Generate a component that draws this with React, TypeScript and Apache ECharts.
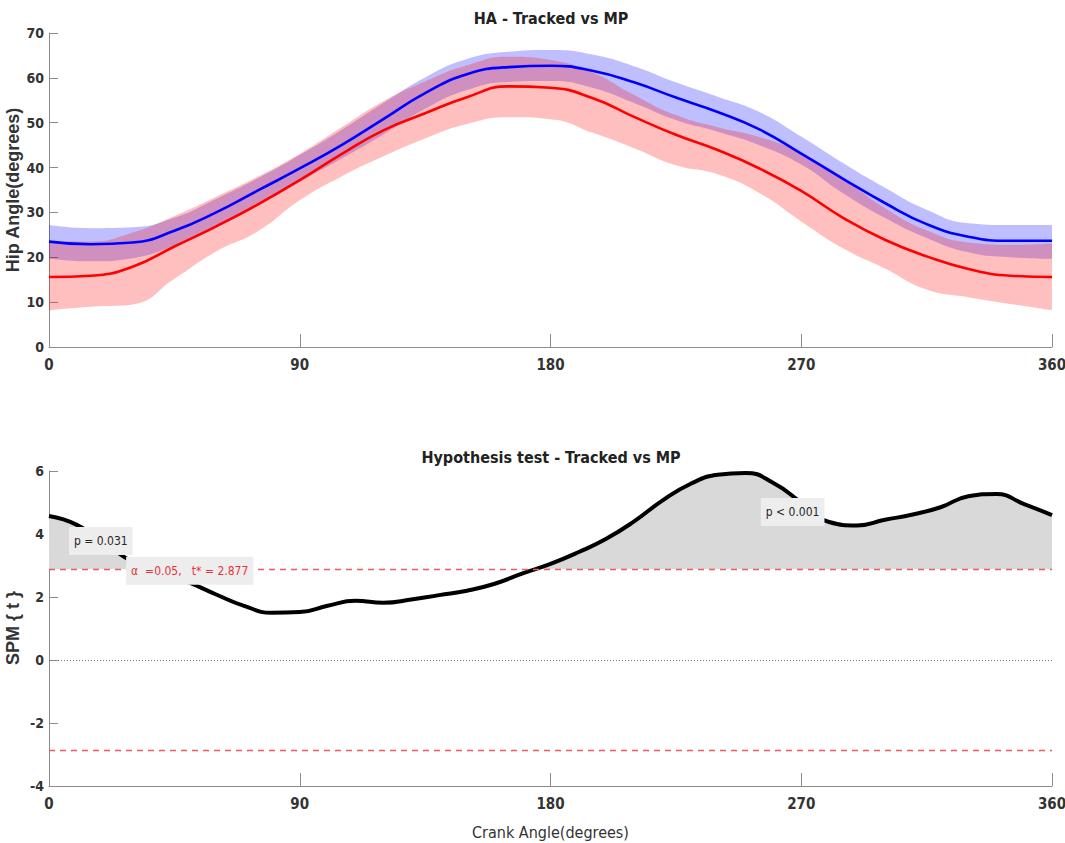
import React, { useEffect, useRef } from 'react';
import * as echarts from 'echarts';

// ---------- data ----------
const ANGLES = [0, 15, 30, 45, 60, 75, 90, 105, 120, 135, 150, 165, 180, 195, 210, 225, 240, 255, 270, 285, 300, 315, 330, 345, 360];

const trackedMean = [23.5, 22.9, 23.3, 25.9, 30.0, 34.9, 39.8, 45.0, 50.8, 56.6, 60.8, 62.4, 62.7, 61.6, 59.0, 55.6, 52.4, 48.5, 43.1, 37.5, 32.1, 27.4, 24.6, 23.7, 23.7];
const trackedUpper = [27.2, 26.5, 26.7, 28.8, 33.0, 37.6, 42.8, 48.4, 54.4, 60.1, 64.2, 65.8, 66.2, 65.2, 62.6, 59.0, 55.8, 52.4, 46.9, 41.0, 35.5, 30.6, 27.6, 27.2, 27.2];
const trackedLower = [19.7, 19.1, 19.8, 22.6, 26.6, 31.5, 36.8, 42.0, 47.4, 53.1, 57.3, 59.1, 59.3, 57.8, 54.4, 50.6, 48.0, 45.0, 40.7, 34.3, 28.8, 24.3, 21.1, 20.0, 19.7];

const mpMean = [15.6, 15.9, 17.9, 22.4, 26.9, 31.8, 37.2, 43.0, 48.3, 52.1, 55.7, 58.1, 57.8, 55.5, 51.3, 47.3, 43.9, 39.8, 34.8, 28.8, 23.9, 20.2, 17.4, 15.9, 15.6];
const mpUpper = [23.5, 23.5, 25.5, 29.2, 33.5, 38.0, 43.1, 49.0, 54.8, 59.2, 62.8, 64.7, 64.0, 61.2, 56.2, 51.7, 49.0, 46.8, 43.2, 37.5, 31.0, 26.0, 23.3, 22.8, 23.1];
const mpLower = [8.2, 9.0, 9.5, 15.2, 21.3, 25.8, 32.7, 38.0, 42.5, 46.5, 49.7, 51.2, 50.8, 47.8, 44.3, 40.5, 38.5, 34.3, 28.0, 22.0, 17.5, 12.8, 11.1, 9.6, 8.2];

const SPM_ANGLES = [0, 10, 20, 30, 40, 50, 60, 70, 80, 90, 100, 110, 120, 130, 140, 150, 160, 170, 180, 190, 200, 210, 220, 230, 240, 250, 260, 270, 280, 290, 300, 310, 320, 330, 340, 350, 360];
const spmT = [4.57, 4.29, 3.70, 3.12, 2.80, 2.47, 2.08, 1.72, 1.50, 1.52, 1.72, 1.88, 1.82, 1.92, 2.06, 2.20, 2.42, 2.75, 3.05, 3.42, 3.85, 4.40, 5.05, 5.58, 5.88, 5.94, 5.62, 5.00, 4.38, 4.27, 4.45, 4.62, 4.85, 5.20, 5.27, 4.95, 4.60];
const T_CRIT = 2.877;

const X_TICKS = [0, 90, 180, 270, 360];

const ANNOTATIONS = [
  { text: 'p = 0.031', x: 18.6, y: 3.78, color: '#262626' },
  { text: 'α  =0.05,   t* = 2.877', x: 50.5, y: 2.83, color: '#e8333c' },
  { text: 'p < 0.001', x: 266.9, y: 4.7, color: '#262626' },
];

// ---------- helpers ----------
const pairs = (xs: number[], ys: number[]) => xs.map((x, i) => [x, ys[i]]);
// value-first pairs (used with encode {x:1, y:0}) so that stacking acts on the y values
const valueFirst = (xs: number[], ys: number[]) => xs.map((x, i) => [ys[i], x]);
const diff = (a: number[], b: number[]) => a.map((v, i) => +(v - b[i]).toFixed(3));

const FONT = "'Liberation Sans Narrow', 'DejaVu Sans Condensed', 'Arial Narrow', 'Liberation Sans', sans-serif";
const NAME_FONT = "'Liberation Sans', Arial, sans-serif";
const AXIS_GRAY = '#8c8c8c';

const xAxisBase = (gridIndex: number) => ({
  type: 'value',
  gridIndex,
  min: 0,
  max: 360,
  interval: 90,
  axisLine: { show: true, onZero: false, lineStyle: { color: AXIS_GRAY, width: 1 } },
  axisTick: { show: true, inside: true, length: 13, lineStyle: { color: AXIS_GRAY } },
  axisLabel: {
    margin: 10,
    fontFamily: FONT,
    fontSize: 15,
    fontWeight: 'bold',
    color: '#333',
    formatter: (v: number) => (X_TICKS.includes(v) ? String(v) : ''),
  },
  splitLine: { show: false },
});

const yAxisBase = (gridIndex: number, min: number, max: number, interval: number) => ({
  type: 'value',
  gridIndex,
  min,
  max,
  interval,
  axisLine: { show: true, lineStyle: { color: AXIS_GRAY, width: 1 } },
  axisTick: { show: true, inside: true, length: 9, lineStyle: { color: AXIS_GRAY } },
  axisLabel: { margin: 5, fontFamily: FONT, fontSize: 14, fontWeight: 'bold', color: '#333' },
  splitLine: { show: false },
});

const bandSeries = (name: string, lower: number[], upper: number[], color: string) => [
  {
    name: name + ' lower',
    type: 'line',
    xAxisIndex: 0,
    yAxisIndex: 0,
    stack: name,
    encode: { x: 1, y: 0 },
    data: valueFirst(ANGLES, lower),
    smooth: true,
    showSymbol: false,
    lineStyle: { opacity: 0 },
    silent: true,
    z: 1,
  },
  {
    name: name + ' band',
    type: 'line',
    xAxisIndex: 0,
    yAxisIndex: 0,
    stack: name,
    encode: { x: 1, y: 0 },
    data: valueFirst(ANGLES, diff(upper, lower)),
    smooth: true,
    showSymbol: false,
    lineStyle: { opacity: 0 },
    areaStyle: { color, opacity: 0.25 },
    silent: true,
    z: 1,
  },
];

const meanSeries = (name: string, mean: number[], color: string) => ({
  name,
  type: 'line',
  xAxisIndex: 0,
  yAxisIndex: 0,
  data: pairs(ANGLES, mean),
  smooth: true,
  showSymbol: false,
  lineStyle: { color, width: 2.6 },
  z: 2,
});

const series: any[] = [
  ...bandSeries('Tracked', trackedLower, trackedUpper, '#0000ff'),
  meanSeries('Tracked', trackedMean, '#0000ff'),
  ...bandSeries('MP', mpLower, mpUpper, '#ff0000'),
  meanSeries('MP', mpMean, '#ff0000'),
];

const SHADE_INDEX = series.length;
series.push({
  name: 'supra-threshold',
  type: 'line',
  xAxisIndex: 1,
  yAxisIndex: 1,
  data: pairs(SPM_ANGLES, spmT),
  smooth: true,
  showSymbol: false,
  lineStyle: { width: 0, opacity: 0 },
  areaStyle: { origin: T_CRIT, opacity: 1 },
  silent: true,
  z: 1,
});
series.push({
  name: 'SPM{t}',
  type: 'line',
  xAxisIndex: 1,
  yAxisIndex: 1,
  data: pairs(SPM_ANGLES, spmT),
  smooth: true,
  showSymbol: false,
  lineStyle: { color: '#000', width: 4 },
  z: 3,
  markLine: {
    silent: true,
    symbol: ['none', 'none'],
    label: { show: false },
    data: [
      { yAxis: T_CRIT, lineStyle: { color: '#f05a5a', type: [6, 5], width: 1.3 } },
      { yAxis: -T_CRIT, lineStyle: { color: '#f05a5a', type: [6, 5], width: 1.3 } },
      { yAxis: 0, lineStyle: { color: '#777', type: [1, 2], width: 1 } },
    ],
  },
});
series.push({
  name: 'annotations',
  type: 'scatter',
  xAxisIndex: 1,
  yAxisIndex: 1,
  symbolSize: 0,
  silent: true,
  z: 10,
  itemStyle: { opacity: 1 },
  data: ANNOTATIONS.map((a) => ({
    value: [a.x, a.y],
    label: {
      show: true,
      position: 'inside',
      formatter: a.text,
      color: a.color,
      fontFamily: FONT,
      fontSize: 12,
      opacity: 1,
      backgroundColor: '#ededed',
      padding: [8, 5, 8, 5],
    },
  })),
});

const option: any = {
  animation: false,
  backgroundColor: '#fff',
  grid: [
    { left: 49, top: 33, width: 1003, height: 314, containLabel: false, outerBoundsMode: 'none' },
    { left: 49, top: 471, width: 1003, height: 315, containLabel: false, outerBoundsMode: 'none' },
  ],
  xAxis: [
    xAxisBase(0),
    {
      ...xAxisBase(1),
      name: 'Crank Angle(degrees)',
      nameLocation: 'middle',
      nameGap: 38,
      nameTextStyle: { fontFamily: FONT, fontSize: 16, color: '#333' },
    },
  ],
  yAxis: [yAxisBase(0, 0, 70, 10), yAxisBase(1, -4, 6, 2)],
  visualMap: [
    {
      type: 'piecewise',
      show: false,
      seriesIndex: SHADE_INDEX,
      dimension: 1,
      pieces: [
        { min: -10, max: T_CRIT, color: 'rgba(255,255,255,0)' },
        { min: T_CRIT, max: 10, color: '#d9d9d9' },
      ],
    },
  ],
  graphic: [
    {
      type: 'text',
      x: 551,
      y: 18,
      style: { text: 'HA - Tracked vs MP', align: 'center', verticalAlign: 'middle', fontFamily: FONT, fontSize: 16, fontWeight: 'bold', fill: '#222' },
    },
    {
      type: 'text',
      x: 551,
      y: 457,
      style: { text: 'Hypothesis test - Tracked vs MP', align: 'center', verticalAlign: 'middle', fontFamily: FONT, fontSize: 16, fontWeight: 'bold', fill: '#222' },
    },
    {
      type: 'text',
      x: 13,
      y: 190,
      rotation: Math.PI / 2,
      style: { text: 'Hip Angle(degrees)', align: 'center', verticalAlign: 'middle', fontFamily: NAME_FONT, fontSize: 18, fontWeight: 'bold', fill: '#333' },
    },
    {
      type: 'text',
      x: 13,
      y: 628,
      rotation: Math.PI / 2,
      style: { text: 'SPM { t }', align: 'center', verticalAlign: 'middle', fontFamily: NAME_FONT, fontSize: 18, fontWeight: 'bold', fill: '#333' },
    },
  ],
  series,
};

export default function App() {
  const ref = useRef<HTMLDivElement>(null);
  useEffect(() => {
    if (!ref.current) return;
    const chart = echarts.init(ref.current, null, { renderer: 'svg' });
    chart.setOption(option);
    return () => chart.dispose();
  }, []);
  return <div ref={ref} style={{ position: 'fixed', left: 0, top: 0, width: 1065, height: 843, background: '#fff' }} />;
}
